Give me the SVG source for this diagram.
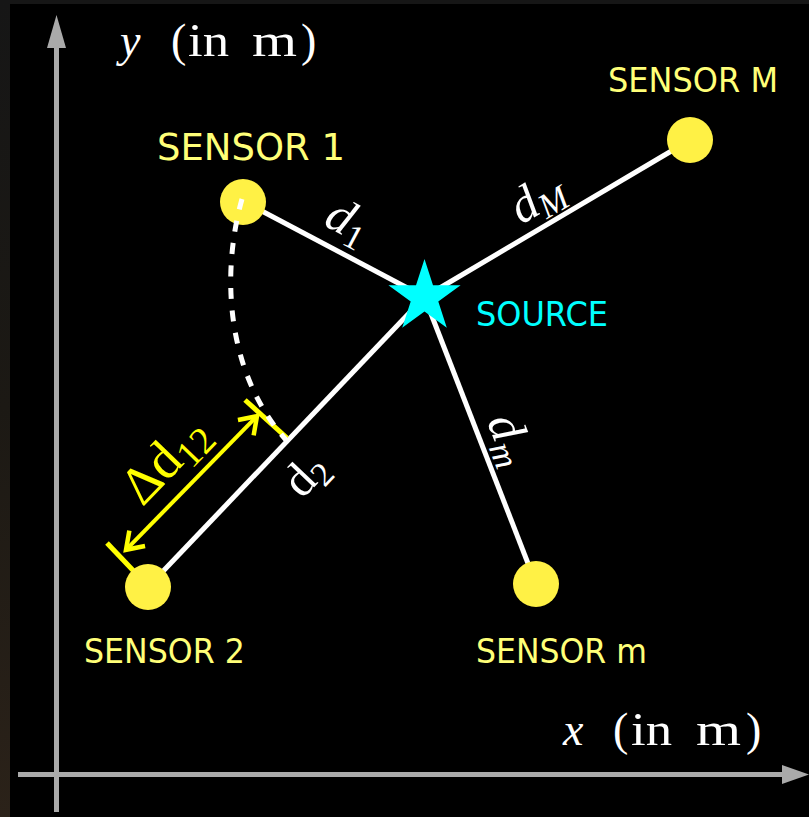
<svg xmlns="http://www.w3.org/2000/svg" width="809" height="817" viewBox="0 0 809 817">
<defs>
<style>
.axis{stroke:#aaaaaa;stroke-width:5;fill:none}
.axhead{fill:#aaaaaa}
.link{stroke:#ffffff;stroke-width:5;fill:none}
.sensor{fill:#fff145}
.slabel{font-family:"DejaVu Sans","Verdana",sans-serif;fill:#ffff78}
.math{font-family:"Liberation Serif","DejaVu Serif",serif;fill:#ffffff}
.yel{stroke:#ffff00;stroke-width:5;fill:none}
</style>
<linearGradient id="strip" x1="0" y1="0" x2="0" y2="1">
<stop offset="0" stop-color="#161616"/>
<stop offset="0.5" stop-color="#1c1914"/>
<stop offset="1" stop-color="#2b2219"/>
</linearGradient>
<marker id="chev" viewBox="-20 -14 26 28" refX="0" refY="0" markerWidth="26" markerHeight="28" markerUnits="userSpaceOnUse" orient="auto-start-reverse">
<path d="M-16,-11 L0,0 L-16,11" fill="none" stroke="#ffff00" stroke-width="4.5" stroke-linejoin="miter"/>
</marker>
</defs>

<rect x="0" y="0" width="809" height="817" fill="#161616"/>
<rect x="0" y="0" width="10" height="817" fill="url(#strip)"/>
<rect x="10" y="4" width="799" height="813" fill="#000000"/>

<g id="axes">
<line class="axis" x1="56.5" y1="812" x2="56.5" y2="46"/>
<polygon class="axhead" points="56.5,15 66,48 47,48"/>
<line class="axis" x1="18" y1="774.5" x2="784" y2="774.5"/>
<polygon class="axhead" points="809,774.5 782,765 782,784"/>
<text class="math" x="120" y="56" font-size="46" font-style="italic">y</text>
<text class="math" font-size="46" y="56"><tspan x="171">(</tspan><tspan x="188" textLength="41" lengthAdjust="spacingAndGlyphs">in</tspan><tspan x="252" textLength="45" lengthAdjust="spacingAndGlyphs">m</tspan><tspan x="301">)</tspan></text>
<text class="math" x="563" y="745" font-size="46" font-style="italic">x</text>
<text class="math" font-size="46" y="745"><tspan x="613">(</tspan><tspan x="631" textLength="41" lengthAdjust="spacingAndGlyphs">in</tspan><tspan x="696" textLength="45" lengthAdjust="spacingAndGlyphs">m</tspan><tspan x="746">)</tspan></text>
</g>

<g id="connectors">
<line class="link" x1="243" y1="201" x2="424.5" y2="297"/>
<line class="link" x1="424.5" y1="297" x2="690" y2="140"/>
<line class="link" x1="424.5" y1="297" x2="148" y2="587"/>
<line class="link" x1="424.5" y1="297" x2="536" y2="584"/>
<line class="yel" x1="245" y1="400" x2="287" y2="438"/>
<line class="yel" x1="107" y1="543" x2="146" y2="584"/>
<line stroke="#ffff00" stroke-width="4" x1="126" y1="549.8" x2="257" y2="416.2" marker-start="url(#chev)" marker-end="url(#chev)"/>
</g>

<g id="sensor1">
<circle class="sensor" cx="243" cy="202" r="23"/>
<text class="slabel" x="157" y="160" font-size="37" textLength="188" lengthAdjust="spacingAndGlyphs">SENSOR 1</text>
</g>
<g id="sensorM">
<circle class="sensor" cx="690" cy="140" r="23"/>
<text class="slabel" x="608" y="92" font-size="33" textLength="170" lengthAdjust="spacingAndGlyphs">SENSOR M</text>
</g>
<g id="sensor2">
<circle class="sensor" cx="148" cy="587" r="23"/>
<text class="slabel" x="84" y="663" font-size="33" textLength="161" lengthAdjust="spacingAndGlyphs">SENSOR 2</text>
</g>
<g id="sensorm">
<circle class="sensor" cx="536" cy="584" r="23"/>
<text class="slabel" x="476" y="663" font-size="33" textLength="171" lengthAdjust="spacingAndGlyphs">SENSOR m</text>
</g>
<g id="source">
<polygon fill="#00ffff" points="424.5,259 433,285.3 460.6,285.3 438.3,301.5 446.8,327.7 424.5,311.5 402.2,327.7 410.7,301.5 388.4,285.3 416,285.3"/>
<text x="476" y="326" font-size="34" textLength="132" lengthAdjust="spacingAndGlyphs" font-family="DejaVu Sans, Verdana, sans-serif" fill="#00ffff">SOURCE</text>
</g>

<g id="arc">
<path d="M242,199 C222,270 224,370 286,440" fill="none" stroke="#ffffff" stroke-width="5" stroke-dasharray="11 11.5"/>
</g>

<g id="labels">
<text class="math" transform="translate(347,223) rotate(28)" x="0" y="13" text-anchor="middle" font-size="50"><tspan font-style="italic">d</tspan><tspan font-size="35" dy="8">1</tspan></text>
<text class="math" transform="translate(538,200) rotate(-30.5)" x="0" y="13" text-anchor="middle" font-size="50"><tspan font-style="italic">d</tspan><tspan font-size="35" font-style="italic" dy="8">M</tspan></text>
<text class="math" transform="translate(508,440) rotate(68.7)" x="0" y="13" text-anchor="middle" font-size="50"><tspan font-style="italic">d</tspan><tspan font-size="35" font-style="italic" dy="8">m</tspan></text>
<text class="math" transform="translate(307,476) rotate(-46.4)" x="0" y="13" text-anchor="middle" font-size="48">d<tspan font-size="34" dy="8">2</tspan></text>
<text class="math" transform="translate(167,462) rotate(-46)" x="0" y="14" text-anchor="middle" font-size="54" style="fill:#ffff00">Δd<tspan font-size="38" dy="9">12</tspan></text>
</g>
</svg>
